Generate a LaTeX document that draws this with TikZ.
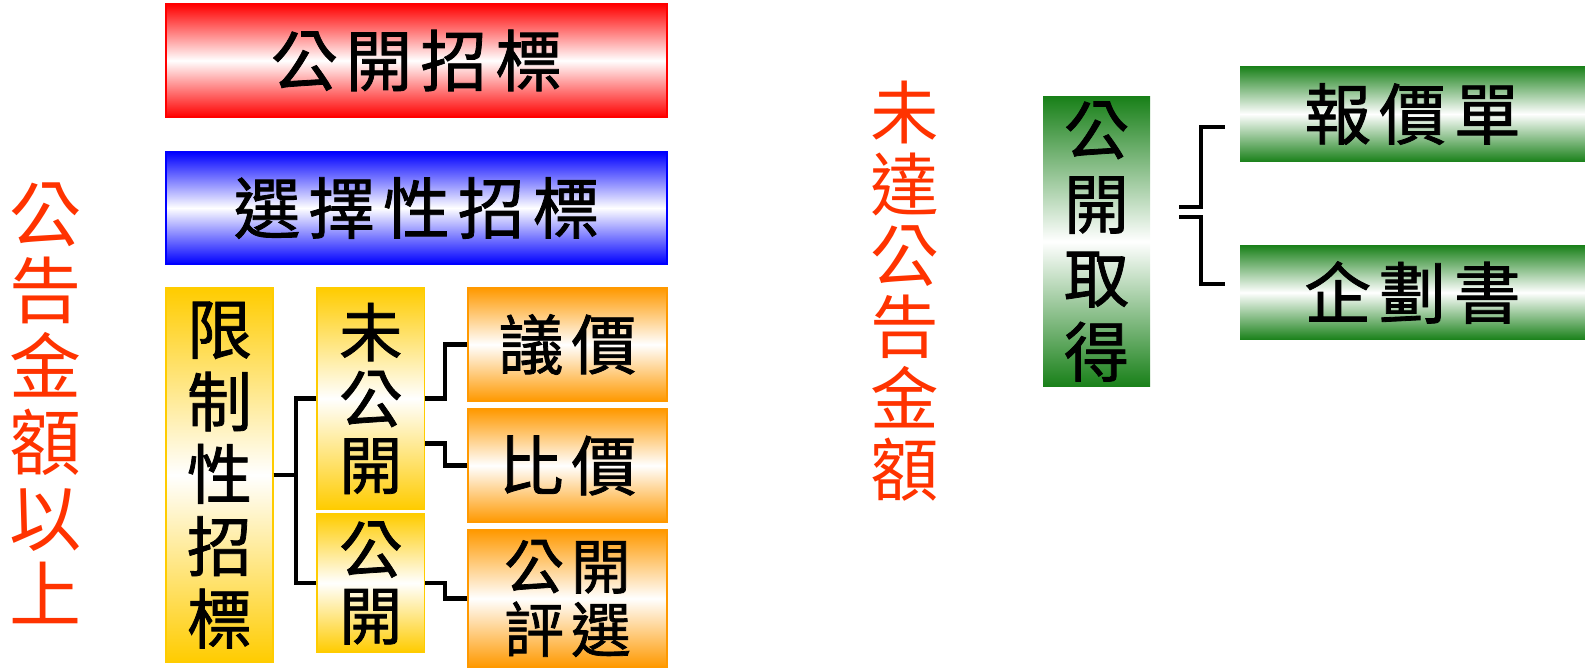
\documentclass[tikz,border=0pt]{standalone}
\usepackage{fontspec}
\newfontfamily\kai[FakeBold=1.2]{Noto Sans CJK TC}
\newfontfamily\kaiwide[LetterSpace=12,FakeBold=1.2]{Noto Sans CJK TC}
\newfontfamily\ming{Noto Sans CJK TC}
\definecolor{gold}{RGB}{255,204,0}
\definecolor{amber}{RGB}{255,153,0}
\definecolor{leaf}{RGB}{24,128,24}
\definecolor{warn}{RGB}{255,51,0}

\begin{document}
\begin{tikzpicture}[x=0.02cm, y=-0.02cm,
		box/.style={inner sep=0pt, line width=0.8pt, align=center},
		redbox/.style={box, draw=red, top color=red, bottom color=red, middle color=white,
			minimum width=10.02cm, minimum height=2.26cm, font=\kaiwide\fontsize{38}{42}\selectfont},
		bluebox/.style={box, draw=blue, top color=blue, bottom color=blue, middle color=white,
			minimum width=10.02cm, minimum height=2.24cm, font=\kaiwide\fontsize{38}{42}\selectfont},
		goldbox/.style={box, draw=gold, top color=gold, bottom color=gold, middle color=white,
			minimum width=2.15cm},
		amberbox/.style={box, draw=amber, top color=amber, bottom color=amber, middle color=white,
			minimum width=3.98cm},
		leafbox/.style={box, top color=leaf, bottom color=leaf, middle color=white},
		warntext/.style={align=center, text=warn, inner sep=0pt},
		link/.style={line width=2.3pt}]
			%%%%% START %%%%%
			
			\useasboundingbox (0,0) rectangle (1585,671);
			
			\node[redbox] (gkzb) at (416.5,60.5) {公開招標};
			\node[bluebox] (xzzb) at (416.5,208) {選擇性招標};
			
			\node[goldbox, minimum width=2.14cm, minimum height=7.48cm,
				font=\kai\fontsize{37}{41.2}\selectfont] (xzx) at (219.5,475) {限\\制\\性\\招\\標};
			\node[goldbox, minimum height=4.42cm,
				font=\kai\fontsize{36}{37.8}\selectfont] (wgk) at (370.75,398.5) {未\\公\\開};
			\node[goldbox, minimum height=2.76cm,
				font=\kai\fontsize{36}{37.8}\selectfont] (gk) at (370.75,583) {公\\開};
			
			\node[amberbox, minimum height=2.26cm,
				font=\kaiwide\fontsize{37}{40}\selectfont] (yj) at (567.5,344.5) {議價};
			\node[amberbox, minimum height=2.26cm,
				font=\kaiwide\fontsize{37}{40}\selectfont] (bj) at (567.5,465.5) {比價};
			\node[amberbox, minimum height=2.74cm,
				font=\kaiwide\fontsize{34}{36}\selectfont] (gkpx) at (567.5,598.5) {公開\\評選};
			
			\draw[link] (xzx.east) -- ++(22,0) |- (wgk.west);
			\draw[link] (xzx.east) -- ++(22,0) |- (gk.west);
			\draw[link] (wgk.east) -- ++(20,0) |- (yj.west);
			\draw[link] ([yshift=-0.9cm]wgk.east) -- ++(20,0) |- (bj.west);
			\draw[link] (gk.east) -- ++(20,0) |- (gkpx.west);
			
			\node[warntext, font=\ming\fontsize{41}{43.2}\selectfont] (above) at (46,403.5) {公\\告\\金\\額\\以\\上};
			\node[warntext, font=\ming\fontsize{39}{40.6}\selectfont] (below) at (905,291.5) {未\\達\\公\\告\\金\\額};
			
			\node[leafbox, minimum width=2.14cm, minimum height=5.82cm,
				font=\kai\fontsize{37}{42.1}\selectfont] (gkqd) at (1096.5,241.5) {公\\開\\取\\得};
			\node[leafbox, minimum width=6.9cm, minimum height=1.92cm,
				font=\kaiwide\fontsize{38}{42}\selectfont] (bjd) at (1412.5,114) {報價單};
			\node[leafbox, minimum width=6.9cm, minimum height=1.9cm,
				font=\kaiwide\fontsize{38}{42}\selectfont] (qhs) at (1412.5,292.5) {企劃書};
			
			\coordinate (up) at (1179,207);
			\coordinate (dn) at (1179,217);
			\coordinate (upend) at (1225,127);
			\coordinate (dnend) at (1225,284);
			\draw[link] (up) -- ++(22,0) |- (upend);
			\draw[link] (dn) -- ++(22,0) |- (dnend);
			
			%%%%% END %%%%%
\end{tikzpicture}
\end{document}
